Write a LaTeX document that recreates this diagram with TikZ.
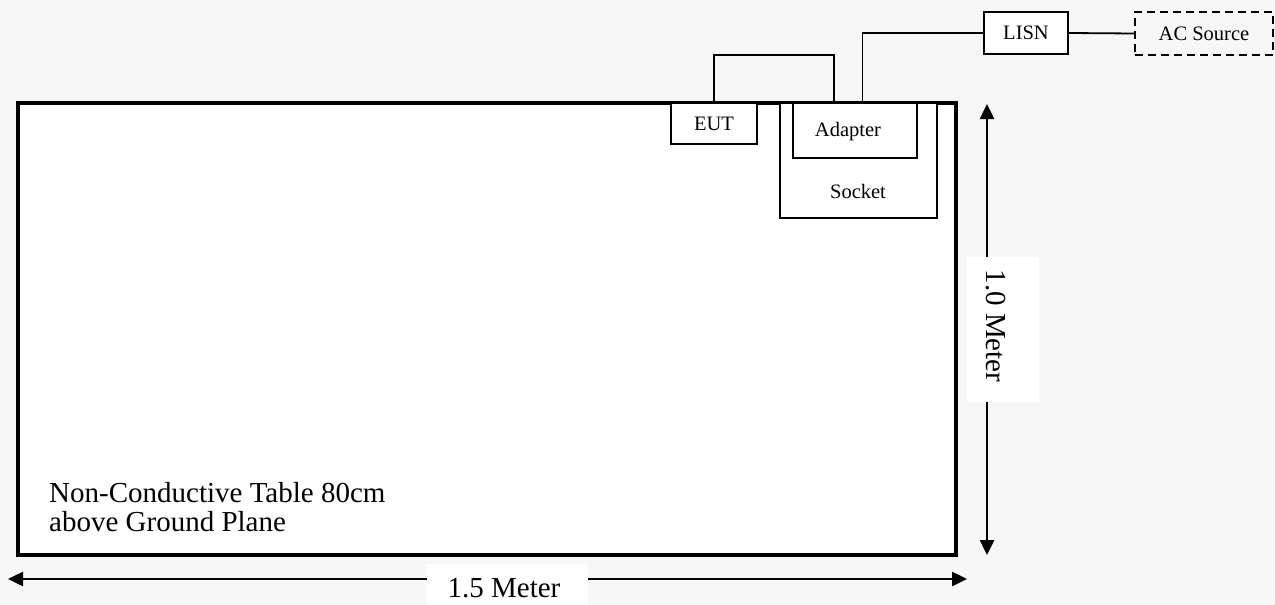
\documentclass[tikz,border=0pt]{standalone}
\usepackage{fontspec}
\setmainfont{Liberation Serif}
\usetikzlibrary{arrows.meta,calc}
\definecolor{bgcol}{RGB}{247,247,247}
\begin{document}
\begin{tikzpicture}[x=1pt,y=-1pt,
  bigtxt/.style={font=\fontsize{29}{29}\selectfont, inner sep=0pt},
  smalltxt/.style={font=\fontsize{20.5}{24}\selectfont, inner sep=0pt},
  boxnode/.style={draw, line width=1.6pt, fill=white, inner sep=0pt, smalltxt},
  wire/.style={line width=1.8pt},
  dimarrow/.style={line width=2.5pt, {Triangle[length=15pt,width=14pt]}-{Triangle[length=15pt,width=14pt]}},
  labelbg/.style={fill=white, draw=none, inner sep=0pt}
]
\useasboundingbox (0,0) rectangle (1275,605);
\fill[bgcol] (0,0) rectangle (1275,605);

% table
\node[draw, line width=3.5pt, fill=white, minimum width=938pt, minimum height=452pt, inner sep=0pt] (table) at (487,329) {};

% socket and adapter
\node[boxnode, minimum width=157pt, minimum height=115pt] (socket) at (858.5,160.5) {};
\node[smalltxt] (socketlabel) at (858,191) {Socket};
\node[boxnode, minimum width=124pt, minimum height=55pt] (adapter) at (855,130.5) {};
\node[smalltxt] (adapterlabel) at (848,132) {Adapter};
\node[boxnode, minimum width=86pt, minimum height=41pt] (eut) at (714,123.5) {EUT};

% LISN and AC source
\node[boxnode, minimum width=84pt, minimum height=42pt] (lisn) at (1026,33) {LISN};
\node[boxnode, dashed, dash pattern=on 8pt off 5pt, fill=none, minimum width=138pt, minimum height=43pt] (ac) at (1204,33.5) {AC Source};

% wires
\coordinate (adA) at ($(adapter.north west)!0.33!(adapter.north east)$);
\coordinate (adB) at ($(adapter.north west)!0.56!(adapter.north east)$);
\draw[wire] (eut.north) -- ++(0,-47) -| (adA);
\draw[wire] (adB) |- (lisn.west);
\draw[wire] (lisn.east) -- (ac.west);

% table text
\node[bigtxt, anchor=north west, align=left] (tabletxt) at (49,482) {Non-Conductive Table 80cm\\above Ground Plane};

% horizontal dimension
\coordinate (hl) at (8,579);
\coordinate (hr) at (967,579);
\draw[dimarrow] (hl) -- (hr);
\node[labelbg, minimum width=161pt, minimum height=41pt] (hlabelbg) at (507.5,584.5) {};
\node[bigtxt, anchor=base] (hlabel) at (504,597) {1.5 Meter};

% vertical dimension
\coordinate (vt) at (987,104);
\coordinate (vb) at (987,555);
\draw[dimarrow] (vt) -- (vb);
\node[labelbg, minimum width=72pt, minimum height=145pt] (vlabelbg) at (1003,329.5) {};
\node[bigtxt, rotate=-90] (vlabel) at (995.5,326) {1.0 Meter};
\end{tikzpicture}
\end{document}
